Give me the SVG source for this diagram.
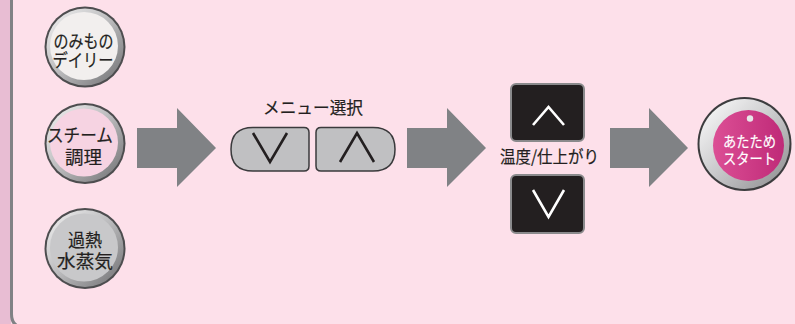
<svg xmlns="http://www.w3.org/2000/svg" width="795" height="324" viewBox="0 0 795 324">
<defs>
<style>
.t{font-family:"Noto Sans CJK JP","Noto Sans",sans-serif;font-weight:400;fill:#231f20;stroke:#231f20;stroke-width:0.2;text-anchor:middle}
.w{fill:#ffffff;stroke:#ffffff}
.arrow{fill:#808285}
.chev{fill:none;stroke-width:2.6;stroke-linecap:butt;stroke-linejoin:miter}
</style>
<linearGradient id="bezel" x1="0" y1="0" x2="1" y2="1">
<stop offset="0" stop-color="#f4f4f4"/>
<stop offset="0.5" stop-color="#b9b9bb"/>
<stop offset="1" stop-color="#6e6e70"/>
</linearGradient>
<linearGradient id="sbezel" x1="0" y1="0" x2="1" y2="1">
<stop offset="0" stop-color="#ffffff"/>
<stop offset="0.5" stop-color="#c9c9cb"/>
<stop offset="1" stop-color="#8a8a8c"/>
</linearGradient>
<linearGradient id="mag" x1="0" y1="0" x2="1" y2="0">
<stop offset="0" stop-color="#dc4f95"/>
<stop offset="1" stop-color="#bf2a78"/>
</linearGradient>
</defs>
<rect x="0" y="0" width="795" height="324" fill="#fde0ea"/>
<rect x="0" y="0" width="11" height="324" fill="#e8bdd3"/>
<path d="M11.5,0 V314 Q11.5,327.5 25,327.5 H800" fill="none" stroke="#808285" stroke-width="3"/>

<g id="btn-nomimono">
<circle cx="85" cy="47" r="40.5" fill="#4d4d4f"/>
<circle cx="85" cy="47" r="38.5" fill="url(#bezel)"/>
<circle cx="84" cy="46" r="34" fill="#f2efee"/>
<text class="t" x="83.5" y="47.5" font-size="18" textLength="60" lengthAdjust="spacingAndGlyphs">のみもの</text>
<text class="t" x="83" y="66.5" font-size="18" textLength="61" lengthAdjust="spacingAndGlyphs">デイリー</text>
</g>

<g id="btn-steam">
<circle cx="85" cy="143.5" r="40.5" fill="#4d4d4f"/>
<circle cx="85" cy="143.5" r="38.5" fill="url(#bezel)"/>
<circle cx="84" cy="142.5" r="34" fill="#f6d3e2"/>
<text class="t" x="80" y="141.5" font-size="18" textLength="66" lengthAdjust="spacingAndGlyphs">スチーム</text>
<text class="t" x="83.5" y="164" font-size="18" textLength="37" lengthAdjust="spacingAndGlyphs">調理</text>
</g>

<g id="btn-kanetsu">
<circle cx="85" cy="248.5" r="40.5" fill="#4d4d4f"/>
<circle cx="85" cy="248.5" r="38.5" fill="url(#bezel)"/>
<circle cx="84" cy="247.5" r="34" fill="#c8c8ca"/>
<text class="t" x="85" y="246.5" font-size="18" textLength="34" lengthAdjust="spacingAndGlyphs">過熱</text>
<text class="t" x="85" y="267.5" font-size="18" textLength="56" lengthAdjust="spacingAndGlyphs">水蒸気</text>
</g>

<g id="connectors">
<path class="arrow" d="M137,128 H177 V108 L216,148 L177,187 V168 H137 Z"/>
<path class="arrow" d="M407,128 H447 V108 L486,148 L447,187 V168 H407 Z"/>
<path class="arrow" d="M610,128 H649 V108 L688,148 L649,187 V168 H610 Z"/>
</g>

<g id="menu-select">
<text class="t" x="313" y="114" font-size="17" textLength="100" lengthAdjust="spacingAndGlyphs">メニュー選択</text>
<path d="M253,127.5 H304 Q309,127.5 309,132.5 V166 Q309,171 304,171 H253 Q231,171 231,149.25 Q231,127.5 253,127.5 Z" fill="#c0c0c2" stroke="#3a3a3c" stroke-width="1.5"/>
<path d="M321,127.5 H373 Q395,127.5 395,149.25 Q395,171 373,171 H321 Q316,171 316,166 V132.5 Q316,127.5 321,127.5 Z" fill="#c0c0c2" stroke="#3a3a3c" stroke-width="1.5"/>
<polyline class="chev" points="253,133 270,162 287,133" stroke="#231f20"/>
<polyline class="chev" points="340,162 357,133 374,162" stroke="#231f20"/>
</g>

<g id="temp-finish">
<rect x="511" y="84" width="73" height="57" rx="5" fill="#231f20" stroke="#8a8a8c" stroke-width="2"/>
<polyline class="chev" points="533,125 548.5,107 564,125" stroke="#ffffff"/>
<text class="t" x="549.5" y="163" font-size="17" textLength="99" lengthAdjust="spacingAndGlyphs">温度/仕上がり</text>
<rect x="511" y="175" width="73" height="58" rx="5" fill="#231f20" stroke="#8a8a8c" stroke-width="2"/>
<polyline class="chev" points="533,190 548.5,217 564,190" stroke="#ffffff"/>
</g>

<g id="btn-start">
<circle cx="744.5" cy="144" r="47" fill="#3c3c3e"/>
<circle cx="744.5" cy="144" r="45" fill="url(#sbezel)"/>
<circle cx="748.5" cy="145.5" r="35.5" fill="url(#mag)"/>
<circle cx="750" cy="118.5" r="3.2" fill="#e6e6e8"/>
<text class="t w" x="749.5" y="146.5" font-size="15" textLength="53" lengthAdjust="spacingAndGlyphs">あたため</text>
<text class="t w" x="749.5" y="163.5" font-size="15" textLength="53" lengthAdjust="spacingAndGlyphs">スタート</text>
</g>
</svg>
